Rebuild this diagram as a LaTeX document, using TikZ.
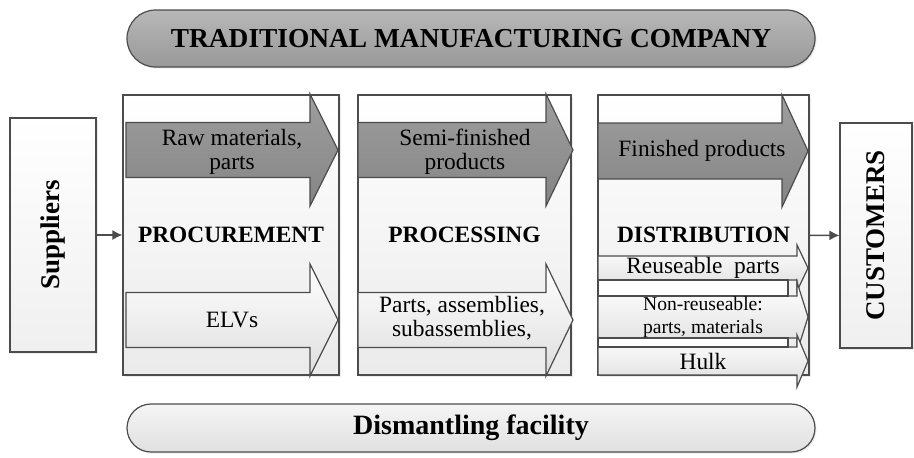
\documentclass[tikz,border=0pt]{standalone}
\usepackage{fontspec}
\setmainfont{Liberation Serif}
\usetikzlibrary{shapes,arrows.meta,shadows}

\tikzset{
  soft/.style={drop shadow={opacity=0.15,shadow xshift=0.8pt,shadow yshift=-0.8pt}},
  stage/.style={draw=black!70, line width=0.6pt, top color=white, bottom color=black!8,
    minimum width=#1, minimum height=140pt, inner sep=0pt, soft,
    font=\fontsize{11.7}{12}\selectfont\bfseries},
  side/.style={draw=black!70, line width=0.6pt, top color=white, bottom color=black!6,
    inner sep=0pt, soft},
  sidetext/.style={rotate=90, font=\fontsize{13.5}{14}\selectfont\bfseries},
  banner/.style={draw=black!70, line width=0.6pt, rounded corners=#1, inner sep=0pt,
    minimum width=344pt, soft},
  flow/.style={draw=black!70, line width=0.6pt},
  darkflow/.style={flow, top color=black!38, bottom color=black!48},
  lightflow/.style={flow, top color=white, bottom color=black!13},
  flowtext/.style={align=center, inner sep=0pt, font=\fontsize{11.7}{12}\selectfont},
  smalltext/.style={align=center, inner sep=0pt, font=\fontsize{9.8}{11.5}\selectfont},
  link/.style={draw=black!70, line width=0.7pt, -{Latex[length=5pt,width=5pt]}}
}

% block arrow: [style] x-left, x-head, x-tip, y-centre, shaft half, head half
\newcommand{\blockarr}[7][]{%
  \path[#1] (#2,#5-#6) -- (#3,#5-#6) -- (#3,#5-#7) -- (#4,#5)
    -- (#3,#5+#7) -- (#3,#5+#6) -- (#2,#5+#6) -- cycle;}

\begin{document}
\begin{tikzpicture}[x=0.5pt,y=-0.5pt]
\useasboundingbox (0,0) rectangle (914,457);

% company and dismantler
\node[banner=14.25pt, minimum height=28.5pt, top color=black!28, bottom color=black!40,
  font=\fontsize{13.7}{14}\selectfont\bfseries] (company) at (471,38.5)
  {TRADITIONAL MANUFACTURING COMPANY};
\node[banner=12pt, minimum height=24pt, top color=black!4, bottom color=black!12,
  font=\fontsize{14}{15}\selectfont\bfseries] (dismantler) at (471,428)
  {Dismantling facility};

% stages
\node[stage=108pt] (proc) at (231,235) {PROCUREMENT};
\node[stage=106.5pt] (processing) at (464.5,235) {PROCESSING};
\node[stage=105.5pt] (dist) at (703.5,235) {DISTRIBUTION};

% suppliers and customers
\node[side, minimum width=43pt, minimum height=117pt] (supp) at (53,235) {};
\node[sidetext] (supptext) at (supp) {Suppliers};
\node[side, minimum width=36pt, minimum height=112.5pt] (cust) at (876,235.5) {};
\node[sidetext] (custtext) at (cust) {CUSTOMERS};

\draw[link] (supp) -- (proc);
\draw[link] (dist) -- (cust);

% flows
\blockarr[darkflow]{126}{310}{338}{150}{27.5}{56}
\blockarr[lightflow]{126}{310}{338}{320}{27.5}{56}
\blockarr[darkflow]{358}{546}{573}{150}{27.5}{56}
\blockarr[lightflow]{358}{546}{573}{320}{27.5}{56}
\blockarr[darkflow]{598}{782}{808}{151}{28}{56}
\blockarr[lightflow]{598}{797}{808}{268}{12}{23}
\blockarr[lightflow]{598}{797}{808}{317}{21}{35}
\blockarr[lightflow]{598}{797}{808}{361}{14}{26}
\path[flow, fill=white] (598,280) rectangle (788,296);
\path[flow, fill=white] (598,338) rectangle (788,347);

\node[flowtext] (raw) at (232,152) {Raw materials,\\parts};
\node[flowtext] (elv) at (232,320) {ELVs};
\node[flowtext] (semi) at (465,152) {Semi-finished\\products};
\node[flowtext] (parts) at (462,318) {Parts, assemblies,\\subassemblies,};
\node[flowtext] (fin) at (702,151) {Finished products};
\node[flowtext] (reuse) at (703,268) {Reuseable\ \ parts};
\node[smalltext] (nonreuse) at (703,317) {Non-reuseable:\\parts, materials};
\node[flowtext] (hulk) at (703,361) {Hulk};

\end{tikzpicture}
\end{document}
